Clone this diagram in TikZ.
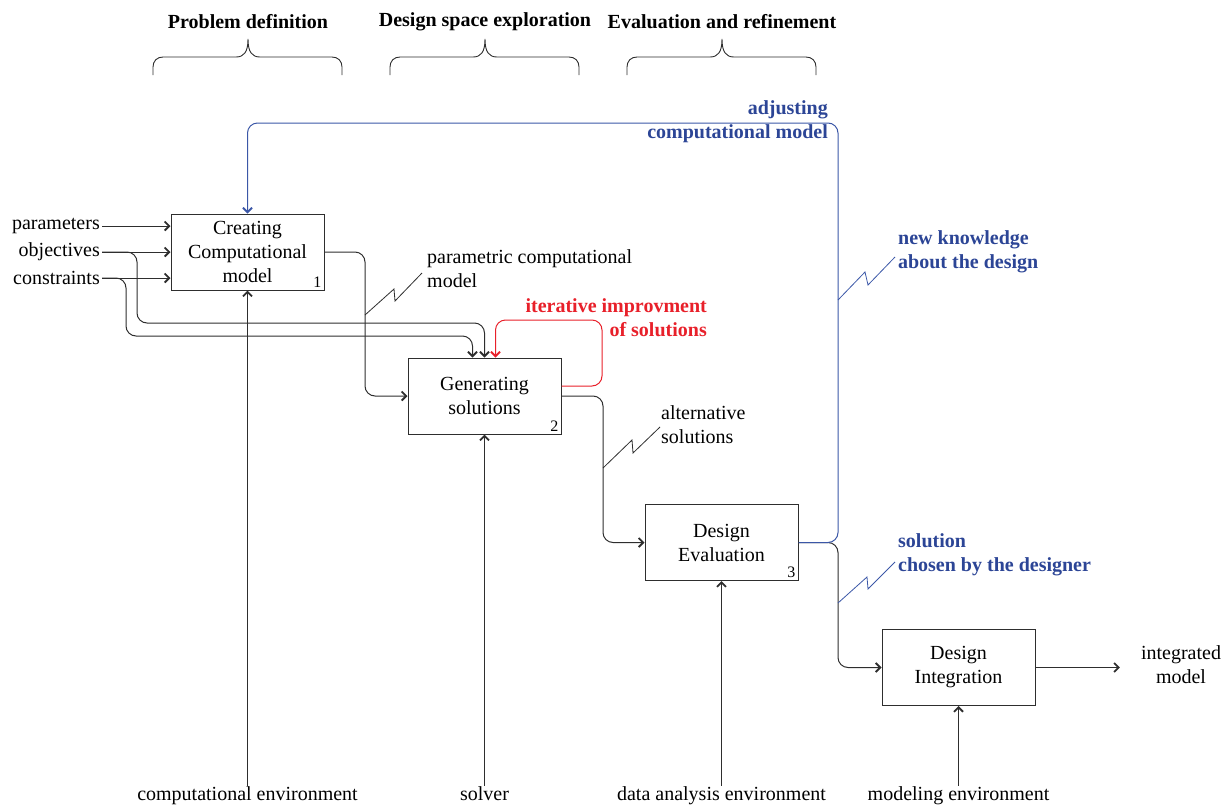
\documentclass[tikz,border=0pt]{standalone}
\usepackage{fontspec}
\setmainfont{Liberation Serif}
\usetikzlibrary{arrows.meta}
\definecolor{lineblue}{HTML}{3B57A7}
\definecolor{textblue}{HTML}{2C4596}
\definecolor{loopred}{HTML}{E8202A}
\definecolor{ink}{HTML}{2E2E2E}
\begin{document}
\begin{tikzpicture}[x=1pt,y=-1pt,
  every node/.style={font=\fontsize{20}{24}\selectfont, inner sep=2pt},
  proc/.style={draw=ink, line width=1pt, minimum width=153pt, minimum height=76pt, align=center},
  num/.style={font=\fontsize{16}{18}\selectfont, anchor=south east, inner sep=3pt},
  conn/.style={draw=ink, line width=1pt, rounded corners=10pt},
  arr/.style={-{Straight Barb[length=4.5pt,width=9pt,line width=1.8pt]}},
  bolt/.style={line width=0.8pt},
  head/.style={font=\bfseries\fontsize{20}{24}\selectfont},
  note/.style={font=\bfseries\fontsize{20}{24}\selectfont, text=textblue},
  mech/.style={text height=14pt, text depth=4pt, inner sep=0pt},
  brace/.style={draw=ink, line width=0.9pt}
]
\useasboundingbox (0,0) rectangle (1232,809);

% phase headers and braces
\node[head] (h1) at (248,22) {Problem definition};
\node[head] (h2) at (485,22) {Design space exploration};
\node[head] (h3) at (722,22) {Evaluation and refinement};
\foreach \cx in {248,485,722}{
  \draw[brace] ({\cx-95},75) -- ({\cx-95},67)
    .. controls ({\cx-95},61) and ({\cx-91},57) .. ({\cx-85},57)
    -- ({\cx-12},57)
    .. controls ({\cx-4},57) and ({\cx},52) .. ({\cx},39)
    .. controls ({\cx},52) and ({\cx+4},57) .. ({\cx+12},57)
    -- ({\cx+84},57)
    .. controls ({\cx+90},57) and ({\cx+94},61) .. ({\cx+94},67)
    -- ({\cx+94},75);
}

% activity boxes
\node[proc] (b1) at (247.5,252) {Creating\\Computational\\model};
\node[num] (n1) at (b1.south east) {1};
\node[proc] (b2) at (484.5,396) {Generating\\solutions};
\node[num] (n2) at (b2.south east) {2};
\node[proc] (b3) at (721.5,542.5) {Design\\Evaluation};
\node[num] (n3) at (b3.south east) {3};
\node[proc] (b4) at (958.5,667.5) {Design\\Integration};

% inputs
\node[anchor=east] (par) at (102,226) {parameters};
\node[anchor=east] (obj) at (102,252) {objectives};
\node[anchor=east] (con) at (102,278) {constraints};
\node[align=center] (intg) at (1181,665) {integrated\\model};

% mechanisms
\node[mech] (m1) at (247.5,795) {computational environment};
\node[mech] (m2) at (484.5,795) {solver};
\node[mech] (m3) at (721.5,795) {data analysis environment};
\node[mech] (m4) at (958.5,795) {modeling environment};

% arrow labels
\node[align=left, anchor=west] (pcm) at (425,269) {parametric computational\\model};
\node[align=left, anchor=west] (alt) at (659,425) {alternative\\solutions};
\node[note, align=right, anchor=east] (adj) at (830,122) {adjusting\\computational model};
\node[note, text=loopred, align=right, anchor=east] (itr) at (709,318) {iterative improvment\\of solutions};
\node[note, align=left, anchor=west] (nkn) at (896,252) {new knowledge\\about the design};
\node[note, align=left, anchor=west] (sol) at (896,555) {solution\\chosen by the designer};

% inputs into box 1 and box 2
\draw[conn,arr] (par.east) -- (par.east -| b1.west);
\draw[conn,arr] (obj.east) -- (obj.east -| b1.west);
\draw[conn,arr] (con.east) -- (con.east -| b1.west);
\draw[conn,arr] (obj.east) -| (137,323) -| (b2.north);
\draw[conn,arr] (con.east) -| (126,336) -| ([xshift=-12pt]b2.north);

% flow between activities
\draw[conn,arr] (b1.east) -| (365,396) -- (b2.west);
\draw[conn,arr] (b2.east) -| (603,542.5) -- (b3.west);
\draw[conn,arr] (b3.east) -| (838,667.5) -- (b4.west);
\draw[conn,arr,shorten >=19pt] (b4.east) -- (b4.east -| intg.west);

% feedback loops
\draw[conn,draw=loopred,arr] ([yshift=10pt]b2.east) -| (602,320) -| ([xshift=11pt]b2.north);
\draw[conn,draw=lineblue,arr] (b3.east) -| (838,123) -| (b1.north);

% mechanisms
\draw[conn,arr] (m1.north) -- (b1.south);
\draw[conn,arr] (m2.north) -- (b2.south);
\draw[conn,arr] (m3.north) -- (b3.south);
\draw[conn,arr] (m4.north) -- (b4.south);

% label squiggles
\draw[bolt,draw=ink] (365,315) -- ++(29,-26) -- ++(1,12) -- ++(27,-28);
\draw[bolt,draw=ink] (603,468) -- ++(29,-28) -- ++(1,13) -- ++(27,-26);
\draw[bolt,draw=lineblue] (838,300) -- ++(27,-28) -- ++(3,13) -- ++(27,-28);
\draw[bolt,draw=lineblue] (838,603) -- ++(29,-26) -- ++(1,12) -- ++(27,-27);
\end{tikzpicture}
\end{document}
